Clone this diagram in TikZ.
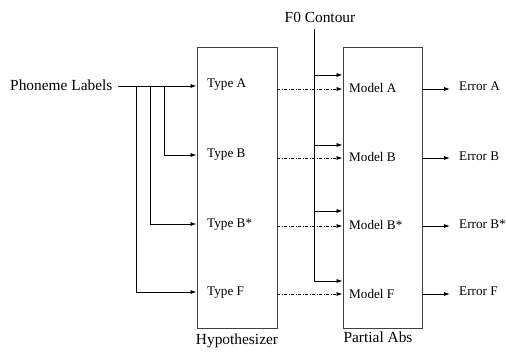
\documentclass[tikz,border=0pt]{standalone}
\usepackage{fontspec}
\setmainfont{Liberation Serif}
\usetikzlibrary{arrows.meta}
\begin{document}
\begin{tikzpicture}[x=1pt,y=-1pt,
  box/.style={draw=black!75, line width=0.9pt, inner sep=0pt},
  lbl/.style={font=\fontsize{13.2}{15}\selectfont, inner sep=0pt, anchor=west},
  big/.style={font=\fontsize{15.4}{18}\selectfont, inner sep=0pt},
  conn/.style={line width=0.8pt, -{Latex[length=6pt,width=4pt]}},
  dotc/.style={conn, dash pattern=on 3pt off 1.5pt on 1pt off 1.5pt},
  plain/.style={line width=0.8pt}]
\useasboundingbox (0,0) rectangle (506,351);
% boxes
\node[box, minimum width=80pt, minimum height=281pt] (hyp) at (237,187.5) {};
\node[box, minimum width=79pt, minimum height=281pt] (pabs) at (382.5,187.5) {};
% outer labels
\node[big, anchor=west] (phon) at (10,85) {Phoneme Labels};
\node[big] (f0) at (320,17) {F0 Contour};
\node[big] (hypl) at (237,341) {Hypothesizer};
\node[big] (pabsl) at (378,337) {Partial Abs};
% inner labels
\node[lbl] (tyA) at (207,85) {Type A};
\node[lbl] (tyB) at (207,155) {Type B};
\node[lbl] (tyBs) at (207,225) {Type B*};
\node[lbl] (tyF) at (207,293) {Type F};
\node[lbl] (moA) at (349,88) {Model A};
\node[lbl] (moB) at (349,157) {Model B};
\node[lbl] (moBs) at (349,225) {Model B*};
\node[lbl] (moF) at (349,294) {Model F};
\node[lbl] (erA) at (459,86) {Error A};
\node[lbl] (erB) at (459,156) {Error B};
\node[lbl] (erBs) at (459,224) {Error B*};
\node[lbl] (erF) at (459,291) {Error F};
% row coordinates
\coordinate (pl) at (118,86);
\coordinate (b1) at (164.3,86);
\coordinate (b2) at (150.5,86);
\coordinate (b3) at (136.5,86);
\coordinate (rB) at (0,155);
\coordinate (rBs) at (0,224);
\coordinate (rF) at (0,292);
\coordinate (dA) at (0,89);
\coordinate (dB) at (0,158);
\coordinate (dBs) at (0,226);
\coordinate (dF) at (0,294);
\coordinate (f0top) at (314.5,29);
\coordinate (f1) at (314.5,75);
\coordinate (f2) at (314.5,145);
\coordinate (f3) at (314.5,211);
\coordinate (fF) at (0,281);
\coordinate (eA) at (450,89);
\coordinate (eB) at (450,158);
\coordinate (eBs) at (450,226);
\coordinate (eF) at (450,294);
% phoneme connectors
\draw[conn] (pl) -- (hyp.west |- pl);
\draw[conn] (b1) |- (hyp.west |- rB);
\draw[conn] (b2) |- (hyp.west |- rBs);
\draw[conn] (b3) |- (hyp.west |- rF);
% F0 connectors
\draw[conn] (f0top) |- (pabs.west |- fF);
\draw[conn] (f1) -- (pabs.west |- f1);
\draw[conn] (f2) -- (pabs.west |- f2);
\draw[conn] (f3) -- (pabs.west |- f3);
% dotted connectors
\draw[dotc] (hyp.east |- dA) -- (pabs.west |- dA);
\draw[dotc] (hyp.east |- dB) -- (pabs.west |- dB);
\draw[dotc] (hyp.east |- dBs) -- (pabs.west |- dBs);
\draw[dotc] (hyp.east |- dF) -- (pabs.west |- dF);
% error connectors
\draw[conn] (pabs.east |- eA) -- (eA);
\draw[conn] (pabs.east |- eB) -- (eB);
\draw[conn] (pabs.east |- eBs) -- (eBs);
\draw[conn] (pabs.east |- eF) -- (eF);
\end{tikzpicture}
\end{document}
